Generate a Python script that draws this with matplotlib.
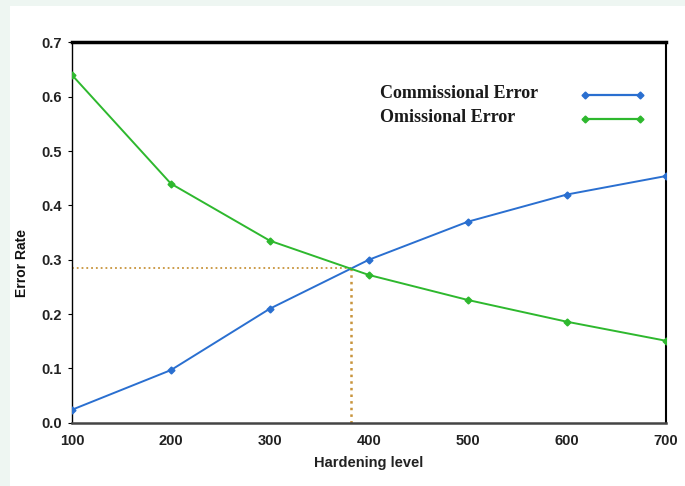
import numpy as np
import matplotlib.pyplot as plt
from matplotlib.patches import Rectangle

hardening = [100, 200, 300, 400, 500, 600, 700]
commissional = [0.024, 0.097, 0.21, 0.30, 0.37, 0.42, 0.454]
omissional = [0.64, 0.44, 0.335, 0.272, 0.226, 0.186, 0.151]
cross_x = 382
cross_y = 0.285
yticks = [0.0, 0.1, 0.2, 0.3, 0.4, 0.5, 0.6, 0.7]
xticks = [100, 200, 300, 400, 500, 600, 700]
series_names = ['Commissional Error', 'Omissional Error']
series_colors = ['#2a6fd0', '#2eb82e']

fig = plt.figure(figsize=(6.85, 4.86), dpi=100)
fig.patch.set_facecolor('#eef6f2')
# white card behind the chart
fig.patches.append(Rectangle((10 / 685, 0), 1, 1 - 6 / 486, transform=fig.transFigure,
                             facecolor='white', edgecolor='none', zorder=-10))

ax = fig.add_axes([0.105, 0.130, 0.867, 0.784])
ax.set_facecolor('white')

ax.plot(hardening, commissional, color=series_colors[0], lw=1.4, marker='D', ms=3.5, zorder=3)
ax.plot(hardening, omissional, color=series_colors[1], lw=1.4, marker='D', ms=3.5, zorder=3)

# crossing guides
ax.plot([100, cross_x], [cross_y, cross_y], color='#c8943c', lw=1.3, ls=':', zorder=2)
ax.plot([cross_x, cross_x], [0, cross_y], color='#c8943c', lw=1.8, ls=':', zorder=2)

ax.set_xlim(100, 700)
ax.set_ylim(0, 0.701)
ax.set_xticks(xticks)
ax.set_yticks(yticks)
ax.set_xticklabels([str(x) for x in xticks], fontfamily='Liberation Sans', fontweight='bold',
                   fontsize=10.5, color='#222222')
ax.set_yticklabels(['%.1f' % y for y in yticks], fontfamily='Liberation Sans', fontweight='bold',
                   fontsize=10.5, color='#222222')
ax.tick_params(axis='x', length=0, pad=8)
ax.tick_params(axis='y', length=3, width=0.8, pad=4)

ax.spines['top'].set_linewidth(2.5)
ax.spines['right'].set_linewidth(1.5)
ax.spines['left'].set_linewidth(1.0)
ax.spines['bottom'].set_linewidth(1.8)
ax.spines['bottom'].set_color('#444444')

ax.set_xlabel('Hardening level', fontfamily='Liberation Sans', fontweight='bold',
              fontsize=10.5, color='#222222', labelpad=6)
ax.set_ylabel('Error Rate', fontfamily='Liberation Sans', fontweight='bold',
              fontsize=10, color='#111111')
ax.yaxis.set_label_coords(-0.072, 0.42)

# legend drawn by hand: text on the left, line with end diamonds on the right
for i, (name, col) in enumerate(zip(series_names, series_colors)):
    yy = 0.864 - i * 0.063
    ax.text(0.519, yy, name, transform=ax.transAxes, ha='left', va='center',
            fontfamily='Liberation Serif', fontweight='bold', fontsize=13, color='#1a1a1a')
    ax.plot([0.864, 0.956], [yy - 0.004, yy - 0.004], transform=ax.transAxes, color=col,
            lw=1.6, marker='D', ms=3.5, clip_on=False)

fig.savefig('out.png', dpi=100, facecolor=fig.get_facecolor())
